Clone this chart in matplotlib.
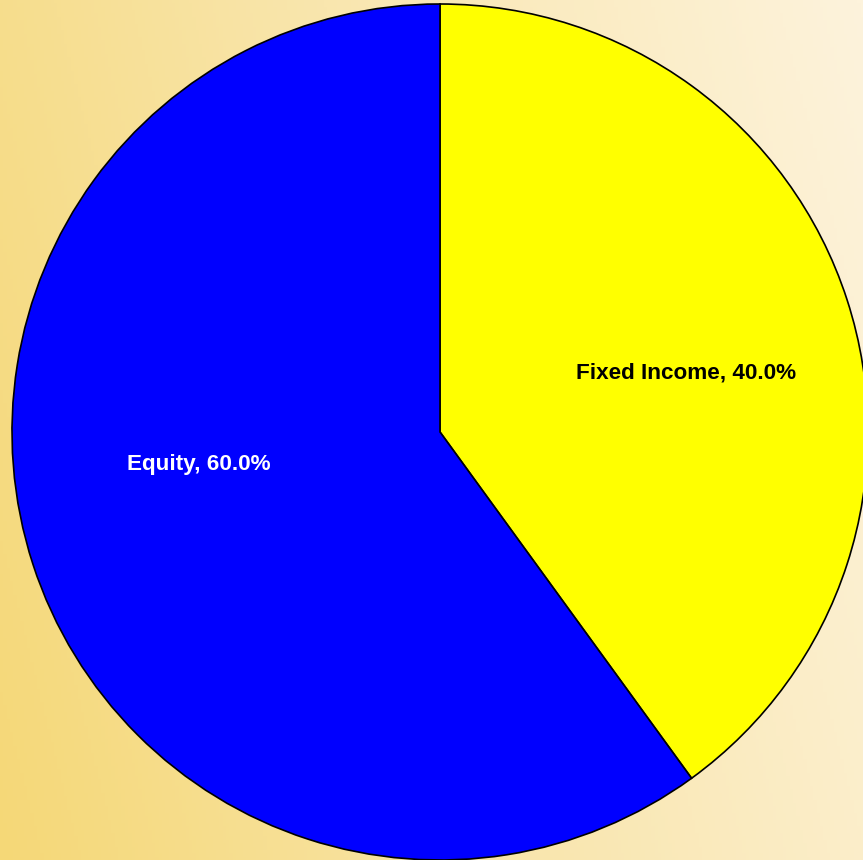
import numpy as np
import matplotlib.pyplot as plt
from matplotlib.colors import LinearSegmentedColormap

# datos
categorias = ["Fixed Income", "Equity"]
valores = [40.0, 60.0]
colores = ["#FFFF00", "#0000FF"]
colores_texto = ["black", "white"]
# posicion de etiquetas (fraccion del radio)
pos_etiquetas = [(0.575, 0.138), (-0.563, -0.075)]

W, H = 863, 860
fig = plt.figure(figsize=(W / 100, H / 100), dpi=100)

# fondo degradado
bg = fig.add_axes([0, 0, 1, 1])
cmap = LinearSegmentedColormap.from_list("fondo", ["#F5D877", "#F9E6AE", "#FDF3DC"])
gx, gy = np.meshgrid(np.linspace(0, 1, 256), np.linspace(0, 1, 256))
grad = 0.8 * gx + 0.2 * gy
bg.imshow(grad, cmap=cmap, aspect="auto", extent=[0, 1, 0, 1], origin="lower")
bg.axis("off")

ax = fig.add_axes([0, 0, 1, 1])
cx, cy, r = 440, H - 432, 428
ax.pie(valores, colors=colores, startangle=90, counterclock=False,
       center=(cx, cy), radius=r, frame=True,
       wedgeprops=dict(edgecolor="black", linewidth=1.2))
ax.set_xlim(0, W)
ax.set_ylim(0, H)
ax.set_aspect("equal")
ax.axis("off")

for cat, v, (px, py), tc in zip(categorias, valores, pos_etiquetas, colores_texto):
    ax.text(cx + px * r, cy + py * r, f"{cat}, {v:.1f}%", ha="center", va="center",
            color=tc, fontsize=16.2, fontweight="bold", family="Liberation Sans")

fig.savefig("out.png", dpi=100)
